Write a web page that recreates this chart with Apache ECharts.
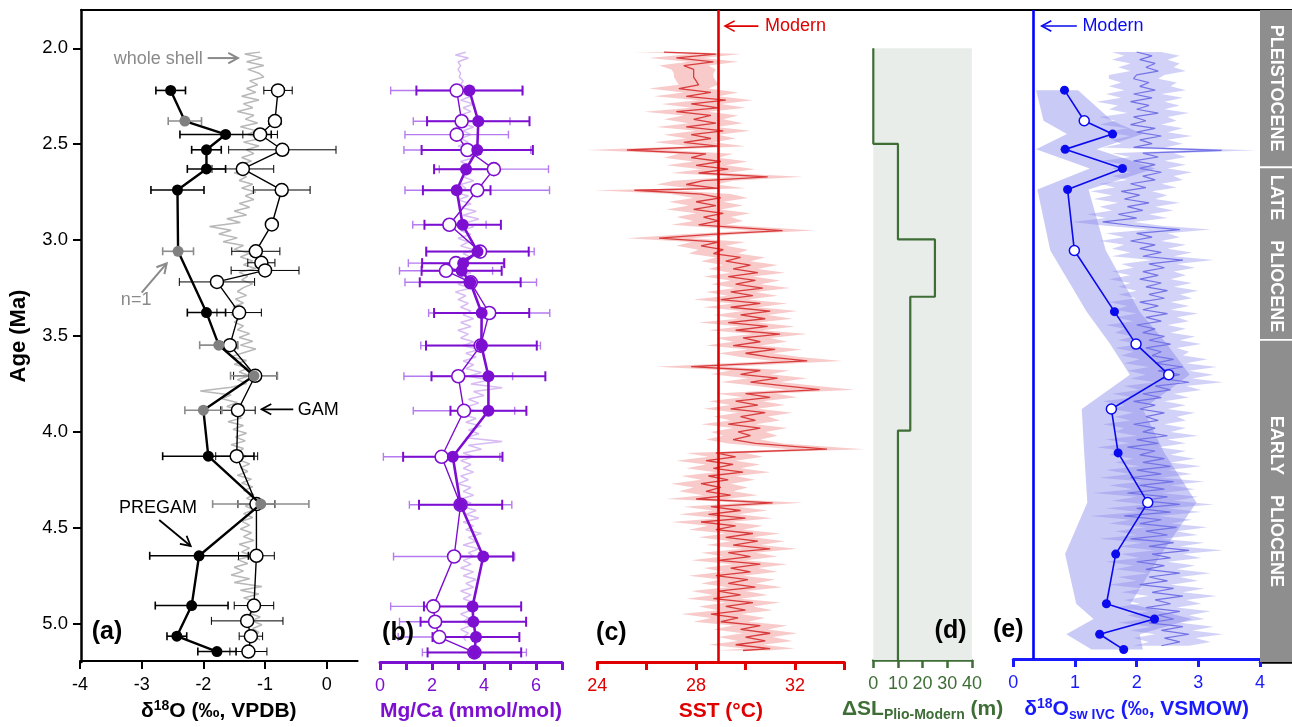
<!DOCTYPE html>
<html><head><meta charset="utf-8">
<script src="https://cdn.jsdelivr.net/npm/echarts@6/dist/echarts.min.js"></script>
<style>html,body{margin:0;padding:0;background:#fff}#c{width:1292px;height:727px}</style>
</head><body><div id="c"></div>
<script>
const FONT = "'Liberation Sans', Arial, Helvetica, sans-serif";
// ---------------- DATA ----------------
const ageTicks = [2.0, 2.5, 3.0, 3.5, 4.0, 4.5, 5.0];
const d18oTicks = [-4, -3, -2, -1, 0];
const mgTicks = [0, 1, 2, 3, 4, 5, 6, 7];
const mgLabels = [0, 2, 4, 6];
const sstTicks = [24, 26, 28, 30, 32, 34];
const sstLabels = [24, 28, 32];
const slTicks = [0, 10, 20, 30, 40];
const swTicks = [0, 1, 2, 3, 4];

// (a) d18O: [age, value, err, grey(n=1)]
const d18oFilled = [
 [2.22,-2.53,0.24,0],[2.38,-2.30,0.27,1],[2.45,-1.64,0.74,0],[2.53,-1.95,0.24,0],
 [2.63,-1.95,0.31,0],[2.74,-2.42,0.43,0],[3.06,-2.41,0.25,1],[3.38,-1.95,0.31,0],
 [3.55,-1.75,0.31,1],[3.71,-1.18,0.38,1],[3.89,-2.00,0.30,1],[4.13,-1.92,0.74,0],
 [4.38,-1.07,0.78,1],[4.65,-2.07,0.80,0],[4.91,-2.19,0.59,0],[5.07,-2.43,0.16,0],
 [5.15,-1.78,0.31,0]];
// [age, value, err]
const d18oOpen = [
 [2.22,-0.79,0.23],[2.38,-0.84,0.10],[2.45,-1.08,0.28],[2.53,-0.72,0.87],[2.63,-1.36,0.50],
 [2.74,-0.73,0.46],[2.92,-0.89,0],[3.06,-1.15,0.39],[3.12,-1.06,0.22],[3.16,-1.00,0.55],
 [3.22,-1.78,0.61],[3.38,-1.42,0.36],[3.55,-1.57,0.12],[3.71,-1.16,0.35],[3.89,-1.44,0.28],
 [4.13,-1.46,0.34],[4.38,-1.14,0.30],[4.65,-1.14,0.29],[4.91,-1.18,0.32],[4.99,-1.29,0.58],
 [5.07,-1.23,0.19],[5.15,-1.27,0.30]];
// whole shell [age, value]
const wholeShell = [
 [2.02,-1.08],[2.03,-1.33],[2.05,-1.05],[2.07,-1.30],[2.09,-1.02],[2.11,-1.28],[2.13,-1.10],[2.15,-1.02],
 [2.17,-1.25],[2.19,-1.12],[2.21,-1.30],[2.23,-1.15],[2.25,-1.38],[2.27,-1.10],[2.29,-1.35],[2.31,-1.20],
 [2.33,-1.45],[2.35,-1.18],[2.37,-1.32],[2.39,-1.12],[2.41,-1.40],[2.43,-1.15],[2.45,-1.28],[2.47,-1.05],
 [2.49,-1.35],[2.51,-1.10],[2.53,-1.30],[2.55,-1.18],[2.57,-1.38],[2.59,-1.22],[2.61,-1.45],[2.63,-1.25],
 [2.65,-1.50],[2.67,-1.30],[2.69,-1.42],[2.71,-1.20],[2.73,-1.38],[2.75,-1.15],[2.77,-1.32],[2.79,-1.18],
 [2.81,-1.42],[2.83,-1.25],[2.85,-1.50],[2.87,-1.30],[2.89,-1.62],[2.91,-1.40],[2.93,-1.90],[2.95,-1.55],
 [2.97,-1.75],[2.99,-1.45],[3.01,-1.68],[3.03,-1.35],[3.05,-1.50],[3.07,-1.25],[3.09,-1.40],[3.11,-1.20],
 [3.13,-1.35],[3.15,-1.15],[3.17,-1.42],[3.19,-1.28],[3.21,-1.38],[3.23,-1.20],[3.25,-1.35],[3.27,-1.45],
 [3.29,-1.30],[3.31,-1.48],[3.33,-1.35],[3.35,-1.52],[3.37,-1.38],[3.39,-1.55],[3.41,-1.40],[3.43,-1.50],
 [3.45,-1.35],[3.47,-1.45],[3.49,-1.25],[3.51,-1.42],[3.53,-1.20],[3.55,-1.40],[3.57,-1.15],[3.59,-1.35],
 [3.61,-1.55],[3.63,-1.30],[3.65,-1.50],[3.67,-1.28],[3.69,-1.42],[3.71,-1.25],[3.73,-1.45],[3.75,-1.30],
 [3.77,-1.55],[3.79,-2.05],[3.81,-1.55],[3.83,-1.70],[3.85,-1.45],[3.87,-1.62],[3.89,-1.40],[3.91,-1.55],
 [3.93,-1.38],[3.95,-1.60],[3.97,-1.35],[3.99,-1.52],[4.01,-1.30],[4.03,-1.48],[4.05,-1.32],[4.07,-1.55],
 [4.09,-1.35],[4.11,-1.45],[4.13,-1.30],[4.15,-1.42],[4.17,-1.25],[4.19,-1.40],[4.21,-1.28],[4.23,-1.45],
 [4.25,-1.22],[4.27,-1.38],[4.29,-1.20],[4.31,-1.35],[4.33,-1.18],[4.35,-1.30],[4.37,-1.15],[4.39,-1.32],
 [4.41,-1.18],[4.43,-1.35],[4.45,-1.20],[4.47,-1.38],[4.49,-1.25],[4.51,-1.40],[4.53,-1.22],[4.55,-1.35],
 [4.57,-1.18],[4.59,-1.42],[4.61,-1.25],[4.63,-1.38],[4.65,-1.20],[4.67,-1.45],[4.69,-1.28],[4.71,-1.50],
 [4.73,-1.35],[4.75,-1.55],[4.77,-1.25],[4.79,-1.50],[4.81,-1.05],[4.83,-1.40],[4.85,-1.10],[4.87,-1.35],
 [4.89,-1.15],[4.91,-1.30],[4.93,-1.10],[4.95,-1.25],[4.97,-1.08],[4.99,-1.22],[5.01,-1.05],[5.03,-1.20],
 [5.05,-1.10],[5.07,-1.18],[5.09,-1.08]];

// (b) Mg/Ca [age, value, err]
const mgFilled = [
 [2.22,3.44,2.04],[2.38,3.78,1.97],[2.53,3.74,2.14],[2.63,3.31,1.23],[2.74,2.95,1.30],
 [2.92,3.18,1.47],[3.06,3.75,1.97],[3.12,3.20,1.58],[3.16,3.14,1.54],[3.22,3.47,1.94],
 [3.38,3.91,1.83],[3.55,3.90,2.13],[3.71,4.17,2.19],[3.89,4.17,1.46],[4.13,2.80,1.91],
 [4.38,3.10,1.60],[4.65,3.97,1.15],[4.91,3.56,1.87],[4.99,3.59,2.03],[5.07,3.69,1.67],
 [5.15,3.63,1.80]];
const mgOpen = [
 [2.22,2.95,2.54],[2.38,3.14,1.86],[2.45,2.95,1.99],[2.53,3.36,2.44],[2.63,4.38,2.10],
 [2.74,3.74,2.78],[2.92,2.67,1.41],[3.06,3.85,2.08],[3.12,2.92,1.83],[3.16,2.54,1.79],
 [3.22,3.49,2.53],[3.38,4.20,2.33],[3.55,3.87,2.30],[3.71,3.01,2.09],[3.89,3.23,1.95],
 [4.13,2.37,2.24],[4.38,3.10,1.97],[4.65,2.85,2.33],[4.91,2.05,1.64],[4.99,2.12,1.37],
 [5.07,2.28,1.58],[5.15,3.63,2.00]];
const mgWhole = [
 [2.02,3.3],[2.035,2.9],[2.05,3.4],[2.07,3.0],[2.09,3.1],[2.11,3.0],[2.13,3.1],[2.15,3.05],[2.17,3.2],
 [2.19,3.1],[2.21,3.4],[2.23,3.0],[2.25,3.5],[2.27,3.1],[2.29,3.6],[2.31,3.2],[2.33,3.5],[2.35,3.0],
 [2.37,3.4],[2.39,3.1],[2.41,3.6],[2.43,3.2],[2.45,3.5],[2.47,3.1],[2.49,3.4],[2.51,3.0],[2.53,3.5],
 [2.55,3.2],[2.57,3.6],[2.59,3.1],[2.61,3.4],[2.63,3.0],[2.65,3.5],[2.67,3.2],[2.69,3.6],[2.71,3.1],
 [2.73,3.3],[2.75,2.9],[2.77,3.4],[2.79,3.0],[2.81,3.5],[2.83,3.1],[2.85,3.7],[2.87,3.2],[2.89,3.8],
 [2.91,3.3],[2.93,3.6],[2.95,3.1],[2.97,3.5],[2.99,3.0],[3.01,3.4],[3.03,3.1],[3.05,3.6],[3.07,3.2],
 [3.09,3.5],[3.11,3.1],[3.13,3.4],[3.15,3.0],[3.17,3.5],[3.19,3.1],[3.21,3.4],[3.23,3.0],[3.25,3.5],
 [3.27,2.9],[3.29,3.3],[3.31,3.0],[3.33,3.4],[3.35,3.1],[3.37,3.5],[3.39,3.2],[3.41,3.6],[3.43,3.1],
 [3.45,3.5],[3.47,3.0],[3.49,3.4],[3.51,3.1],[3.53,3.6],[3.55,3.2],[3.57,3.8],[3.59,3.3],[3.61,3.7],
 [3.63,3.2],[3.65,3.6],[3.67,3.3],[3.69,3.9],[3.71,3.4],[3.73,4.2],[3.75,3.5],[3.77,4.7],[3.79,3.6],
 [3.81,4.0],[3.83,3.4],[3.85,3.8],[3.87,3.3],[3.89,3.6],[3.91,3.2],[3.93,3.7],[3.95,3.3],[3.97,3.9],
 [3.99,3.4],[4.01,3.8],[4.03,3.3],[4.05,4.7],[4.07,3.4],[4.09,3.9],[4.11,3.2],[4.13,3.6],[4.15,3.1],
 [4.17,3.5],[4.19,3.2],[4.21,3.6],[4.23,3.1],[4.25,3.4],[4.27,3.0],[4.29,3.5],[4.31,3.2],[4.33,3.6],
 [4.35,3.1],[4.37,3.5],[4.39,3.2],[4.41,3.7],[4.43,3.3],[4.45,3.8],[4.47,3.2],[4.49,3.6],[4.51,3.3],
 [4.53,3.9],[4.55,3.4],[4.57,3.7],[4.59,3.2],[4.61,3.8],[4.63,3.4],[4.65,3.6],[4.67,3.2],[4.69,3.5],
 [4.71,3.1],[4.73,3.6],[4.75,3.2],[4.77,3.7],[4.79,3.3],[4.81,3.6],[4.83,3.1],[4.85,3.5],[4.87,3.2],
 [4.89,3.6],[4.91,3.3],[4.93,3.5],[4.95,3.1],[4.97,3.4],[4.99,3.2],[5.01,3.5],[5.03,3.1],[5.05,3.4],
 [5.07,3.2],[5.09,3.3]];

// (c) SST [age, value, half-width of band]
const modernSST = 28.9;
const sst = [
 [2.02,26.7,1.2],[2.03,28.8,1.0],[2.05,27.2,1.1],[2.07,28.7,1.0],[2.09,27.5,1.0],[2.11,27.9,0.9],[2.13,27.9,0.8],
 [2.15,27.9,0.8],[2.17,28.0,0.8],[2.19,28.1,0.8],[2.21,27.3,1.2],[2.23,28.6,1.1],[2.25,27.6,1.3],[2.27,29.2,1.1],
 [2.29,27.8,1.2],[2.31,28.9,1.1],[2.33,27.2,1.3],[2.35,28.6,1.1],[2.37,27.9,1.2],[2.39,28.8,1.1],[2.41,27.6,1.2],
 [2.43,29.1,1.1],[2.45,27.8,1.1],[2.47,28.6,1.0],[2.49,27.5,1.2],[2.51,28.9,1.1],[2.53,25.2,1.6],[2.55,28.4,1.1],
 [2.57,27.8,1.1],[2.59,29.0,1.1],[2.61,28.0,1.2],[2.63,29.3,1.1],[2.65,28.1,1.1],[2.67,30.9,1.4],[2.69,28.3,1.2],
 [2.71,27.6,1.2],[2.73,28.9,1.1],[2.74,25.5,1.6],[2.76,28.2,1.2],[2.78,29.0,1.1],[2.80,28.0,1.1],[2.82,28.8,1.1],
 [2.84,27.9,1.1],[2.86,29.1,1.1],[2.88,28.3,1.1],[2.90,28.9,1.0],[2.92,28.1,1.1],[2.95,31.5,1.3],[2.97,28.6,1.1],
 [2.99,26.5,1.3],[3.01,28.9,1.1],[3.03,28.2,1.0],[3.05,29.1,1.0],[3.07,28.7,1.0],[3.09,29.8,1.0],[3.11,29.2,1.0],
 [3.13,30.2,1.1],[3.15,29.5,1.0],[3.17,30.5,1.1],[3.19,29.3,1.0],[3.21,30.4,1.0],[3.23,29.6,1.0],[3.25,30.7,1.1],
 [3.27,29.4,1.0],[3.29,30.3,1.0],[3.31,29.0,1.1],[3.33,30.6,1.1],[3.35,29.4,1.1],[3.37,31.0,1.1],[3.39,29.8,1.1],
 [3.41,30.8,1.1],[3.43,29.3,1.2],[3.45,30.9,1.1],[3.47,29.6,1.1],[3.49,31.4,1.1],[3.51,29.9,1.1],[3.53,30.6,1.1],
 [3.55,29.5,1.1],[3.57,31.2,1.1],[3.59,30.0,1.1],[3.61,31.0,1.2],[3.63,32.5,1.4],[3.66,27.8,1.4],[3.68,30.6,1.2],
 [3.70,29.8,1.2],[3.72,31.3,1.2],[3.74,30.2,1.2],[3.76,31.6,1.2],[3.78,33.0,1.4],[3.80,30.0,1.2],[3.82,31.0,1.1],
 [3.84,29.6,1.1],[3.86,30.5,1.1],[3.88,29.4,1.1],[3.90,30.8,1.1],[3.92,29.8,1.1],[3.94,30.4,1.0],[3.96,29.3,1.1],
 [3.98,30.6,1.1],[4.00,29.7,1.1],[4.02,30.2,1.1],[4.04,29.5,1.1],[4.06,30.4,1.1],[4.09,33.3,1.5],[4.11,28.8,1.2],
 [4.13,29.6,1.1],[4.15,28.4,1.2],[4.17,29.5,1.1],[4.19,28.7,1.1],[4.21,29.9,1.1],[4.23,28.5,1.1],[4.25,29.3,1.1],
 [4.27,28.2,1.2],[4.29,29.0,1.1],[4.31,28.4,1.1],[4.33,29.4,1.1],[4.35,28.0,1.2],[4.37,31.1,1.2],[4.39,28.6,1.1],
 [4.41,29.8,1.1],[4.43,28.5,1.2],[4.45,30.0,1.1],[4.47,28.2,1.2],[4.49,29.6,1.1],[4.51,28.8,1.1],[4.53,30.3,1.1],
 [4.55,29.2,1.1],[4.57,30.5,1.1],[4.59,29.5,1.1],[4.61,31.0,1.1],[4.63,29.3,1.1],[4.65,30.2,1.1],[4.67,28.9,1.1],
 [4.69,30.6,1.1],[4.71,29.4,1.1],[4.73,30.2,1.1],[4.75,28.8,1.1],[4.77,30.1,1.1],[4.79,29.3,1.1],[4.81,30.4,1.1],
 [4.83,28.9,1.1],[4.85,29.8,1.1],[4.87,28.7,1.1],[4.89,30.3,1.1],[4.91,29.2,1.1],[4.93,30.0,1.1],[4.95,28.6,1.2],
 [4.97,29.7,1.1],[4.99,29.0,1.1],[5.01,30.6,1.1],[5.03,29.8,1.1],[5.05,31.0,1.1],[5.07,30.0,1.1],[5.09,30.8,1.1],
 [5.11,29.6,1.1],[5.13,31.0,1.0],[5.14,29.9,1.0]];

// (d) sea level step record
const slAges = [2.0, 2.5, 3.0, 3.3, 4.0];
const slValues = [0, 10, 25, 15, 10];
const slEndAge = 5.2;

// (e) d18Osw IVC points: [age, value, open, bandLow, bandHigh]
const modernSW = 0.32;
const swPoints = [
 [2.22,0.83,0,0.37,1.05],[2.38,1.15,1,0.49,1.60],[2.45,1.61,0,0.87,2.10],[2.53,0.84,0,0.37,1.35],
 [2.63,1.77,0,1.24,2.30],[2.74,0.88,0,0.39,1.22],[3.06,0.99,1,0.60,1.50],[3.38,1.64,0,1.19,2.05],
 [3.55,1.99,1,1.57,2.49],[3.71,2.52,1,1.89,2.86],[3.89,1.59,1,1.11,2.10],[4.12,1.70,0,1.15,2.45],
 [4.38,2.18,1,1.20,2.97],[4.65,1.66,0,0.84,2.40],[4.91,1.51,0,1.02,1.90],[4.99,2.29,0,1.30,2.90],
 [5.07,1.40,0,0.86,2.05],[5.15,1.79,0,1.27,2.10]];
// high-resolution record [age, value, half-width]
const swRecord = [
 [2.02,2.00,.40],[2.04,2.25,.45],[2.06,2.05,.45],[2.08,2.30,.40],[2.10,2.15,.45],[2.12,2.35,.45],[2.14,2.00,.45],
 [2.16,1.95,.40],[2.18,2.20,.45],[2.20,2.05,.50],[2.22,2.30,.50],[2.24,1.95,.45],[2.26,2.25,.50],[2.28,1.90,.55],
 [2.30,2.20,.50],[2.32,2.00,.45],[2.34,2.35,.50],[2.36,1.95,.55],[2.38,2.15,.50],[2.40,1.90,.50],[2.42,2.30,.45],
 [2.44,2.00,.50],[2.46,2.40,.50],[2.48,2.05,.45],[2.50,2.25,.50],[2.52,1.95,.50],[2.535,3.38,.55],[2.55,2.10,.50],
 [2.57,2.35,.45],[2.59,1.95,.50],[2.61,2.30,.50],[2.63,2.05,.45],[2.65,2.40,.50],[2.67,2.10,.50],[2.69,2.30,.45],
 [2.71,1.90,.50],[2.73,2.15,.50],[2.75,1.75,.50],[2.77,2.05,.45],[2.79,1.80,.50],[2.81,2.20,.50],[2.83,1.85,.45],
 [2.85,2.10,.50],[2.87,1.70,.50],[2.89,2.00,.50],[2.91,1.45,.50],[2.93,1.95,.45],[2.95,2.70,.50],[2.97,2.00,.50],
 [2.99,2.25,.45],[3.01,1.90,.50],[3.03,2.30,.50],[3.05,2.05,.45],[3.07,2.40,.50],[3.09,2.10,.50],[3.11,2.75,.50],
 [3.13,2.20,.45],[3.15,2.45,.50],[3.17,2.10,.50],[3.19,2.35,.45],[3.21,2.05,.50],[3.23,2.40,.50],[3.25,2.15,.45],
 [3.27,2.50,.50],[3.29,2.20,.50],[3.31,2.45,.45],[3.33,2.05,.50],[3.35,2.35,.50],[3.37,2.10,.45],[3.39,2.50,.50],
 [3.41,2.15,.50],[3.43,2.40,.45],[3.45,2.00,.50],[3.47,2.30,.50],[3.49,2.10,.45],[3.51,2.45,.50],[3.53,2.20,.50],
 [3.55,2.55,.50],[3.57,2.15,.50],[3.59,2.40,.45],[3.61,2.25,.50],[3.63,2.60,.55],[3.65,2.30,.50],[3.67,2.75,.55],
 [3.69,2.35,.50],[3.71,2.70,.55],[3.73,2.40,.50],[3.75,2.85,.55],[3.77,2.30,.50],[3.79,2.55,.50],[3.81,2.10,.50],
 [3.83,2.40,.45],[3.85,1.95,.50],[3.87,2.30,.50],[3.89,2.05,.45],[3.91,2.45,.50],[3.93,2.15,.50],[3.95,2.35,.45],
 [3.97,1.95,.50],[3.99,2.30,.50],[4.01,2.10,.45],[4.03,2.50,.50],[4.05,2.00,.50],[4.07,2.35,.45],[4.09,1.85,.50],
 [4.11,2.30,.50],[4.13,2.05,.50],[4.15,2.45,.50],[4.17,2.10,.45],[4.19,2.55,.50],[4.21,2.00,.50],[4.23,2.40,.50],
 [4.25,1.90,.50],[4.27,2.60,.50],[4.29,2.05,.50],[4.31,2.45,.50],[4.33,1.85,.55],[4.35,2.50,.50],[4.37,2.10,.50],
 [4.39,2.70,.55],[4.41,2.00,.50],[4.43,2.55,.50],[4.45,1.80,.55],[4.47,2.40,.50],[4.49,2.05,.50],[4.51,2.65,.50],
 [4.53,2.15,.50],[4.55,2.50,.50],[4.57,1.90,.50],[4.59,2.60,.50],[4.61,2.20,.50],[4.63,2.85,.55],[4.65,2.25,.50],
 [4.67,2.55,.50],[4.69,2.00,.50],[4.71,2.45,.50],[4.73,2.15,.50],[4.75,2.70,.50],[4.77,2.20,.50],[4.79,2.50,.50],
 [4.81,2.05,.50],[4.83,2.60,.50],[4.85,2.25,.50],[4.87,2.75,.55],[4.89,2.30,.50],[4.91,2.55,.50],[4.93,2.15,.50],
 [4.95,2.70,.50],[4.97,2.35,.50],[4.99,2.60,.50],[5.01,2.20,.50],[5.03,2.75,.50],[5.05,2.40,.50],[5.07,2.85,.55],
 [5.09,2.45,.50],[5.11,2.70,.50],[5.13,2.40,.45]];

// epochs
const epochLabels = ['PLEISTOCENE', 'LATE    PLIOCENE', 'EARLY    PLIOCENE'];
const epochStart = [1.8, 2.625, 3.525];
const epochEnd = [2.615, 3.515, 5.2];

// ---------------- STYLE ----------------
const BLACK = '#000', GREY = '#808080', SHELL = '#b8b8b8';
const PURPLE = '#7d0fd0', PURPLE_L = '#b57af0', PURPLE_W = 'rgba(175,120,230,0.5)';
const RED = '#e00000', SST_LINE = '#d83c3c', SST_BAND = 'rgba(242,150,150,0.5)';
const GREEN = '#3e6d36', GREEN_BG = '#e9ede9';
const BLUE = '#0a0aee', BLUE_AX = '#1a1aff', SW_BAND = 'rgba(150,150,238,0.5)', SWR_BAND = 'rgba(125,125,235,0.35)', SWR_LINE = '#7373e6';
const AGE_MIN = 1.8, AGE_MAX = 5.2;

const annotations = {
 1: [
  {x:-2.01, age:2.056, text:'whole shell', align:'right', color:'#8a8a8a'},
  {x:-1.93, age:2.051, to:[-1.44,2.051], color:'#8a8a8a', w:2},
  {x:-3.09, age:3.314, text:'n=1', align:'center', color:'#8a8a8a'},
  {x:-3.00, age:3.276, to:[-2.595,3.123], color:'#8a8a8a', w:2},
  {x:-0.47, age:3.889, text:'GAM', align:'left', color:BLACK},
  {x:-0.543, age:3.885, to:[-1.056,3.885], color:BLACK, w:1.8},
  {x:-2.736, age:4.40, text:'PREGAM', align:'center', color:BLACK},
  {x:-2.716, age:4.463, to:[-2.206,4.599], color:BLACK, w:1.8},
  {x:-3.81, age:5.048, text:'(a)', align:'left', color:BLACK, bold:true}],
 2: [{x:0.08, age:5.048, text:'(b)', align:'left', color:BLACK, bold:true}],
 3: [
  {x:30.52, age:1.884, to:[29.17,1.884], color:RED, w:1.6},
  {x:30.79, age:1.886, text:'Modern', align:'left', color:RED},
  {x:23.95, age:5.048, text:'(c)', align:'left', color:BLACK, bold:true}],
 4: [{x:37.8, age:5.048, text:'(d)', align:'right', color:BLACK, bold:true}],
 5: [
  {x:1.03, age:1.884, to:[0.46,1.884], color:BLUE, w:1.6},
  {x:1.12, age:1.886, text:'Modern', align:'left', color:BLUE},
  {x:-0.33, age:5.048, text:'(e)', align:'left', color:BLACK, bold:true}]
};

// ---------------- HELPERS ----------------
function annotSeries(gi) {
  const list = annotations[gi];
  return {
    type:'custom', xAxisIndex:gi, yAxisIndex:gi, z:20, silent:true,
    data: list.map(a => [a.x, a.age]), encode:{x:0, y:1},
    renderItem: (params, api) => {
      const a = list[params.dataIndex];
      const p = api.coord([a.x, a.age]);
      if (a.text) {
        return {type:'text', x:p[0], y:p[1], style:{text:a.text, fill:a.color,
          fontSize: a.bold ? 25 : 18, fontWeight: a.bold ? 'bold' : 'normal', fontFamily:FONT,
          align:a.align, verticalAlign:'middle'}};
      }
      const q = api.coord(a.to);
      const ang = Math.atan2(q[1]-p[1], q[0]-p[0]);
      const L = 11, s = 0.5;
      const h1 = [q[0] - L*Math.cos(ang - s), q[1] - L*Math.sin(ang - s)];
      const h2 = [q[0] - L*Math.cos(ang + s), q[1] - L*Math.sin(ang + s)];
      const st = {stroke:a.color, lineWidth:a.w, fill:null};
      return {type:'group', children:[
        {type:'line', shape:{x1:p[0], y1:p[1], x2:q[0], y2:q[1]}, style:st},
        {type:'polyline', shape:{points:[h1, q, h2]}, style:st}]};
    }
  };
}
function errSeries(gi, rows, color, width, cap, z, filter) {
  const rs = filter ? rows.filter(filter) : rows;
  return {
    type:'custom', xAxisIndex:gi, yAxisIndex:gi, z:z, silent:true,
    data: rs.map(r => [r[1], r[0], r[2]]), encode:{x:0, y:1},
    renderItem: (params, api) => {
      const v = api.value(0), a = api.value(1), e = api.value(2);
      if (!e) return {type:'group', children:[]};
      const p1 = api.coord([v-e, a]), p2 = api.coord([v+e, a]);
      const st = {stroke:color, lineWidth:width};
      return {type:'group', children:[
        {type:'line', shape:{x1:p1[0], y1:p1[1], x2:p2[0], y2:p2[1]}, style:st},
        {type:'line', shape:{x1:p1[0], y1:p1[1]-cap, x2:p1[0], y2:p1[1]+cap}, style:st},
        {type:'line', shape:{x1:p2[0], y1:p2[1]-cap, x2:p2[0], y2:p2[1]+cap}, style:st}]};
    }
  };
}
function bandSeries(gi, ages, lo, hi, color, z) {
  return {
    type:'custom', xAxisIndex:gi, yAxisIndex:gi, z:z, silent:true,
    data:[[lo[0], ages[0]]], encode:{x:0, y:1},
    renderItem: (params, api) => {
      const pts = [];
      for (let i = 0; i < ages.length; i++) pts.push(api.coord([lo[i], ages[i]]));
      for (let i = ages.length-1; i >= 0; i--) pts.push(api.coord([hi[i], ages[i]]));
      return {type:'polygon', shape:{points:pts}, style:{fill:color}};
    }
  };
}
function plainLine(gi, pairs, color, width, z) {
  return {type:'line', xAxisIndex:gi, yAxisIndex:gi, z:z, silent:true, symbol:'none',
    data: pairs.map(p => [p[1], p[0]]), lineStyle:{color:color, width:width}};
}
function pointSeries(gi, rows, o) {
  return {type:'line', xAxisIndex:gi, yAxisIndex:gi, z:o.z, silent:true,
    symbol:'circle', showSymbol:true, showAllSymbol:true,
    symbolSize: (val, params) => o.size(rows[params.dataIndex]),
    data: rows.map(r => ({value:[r[1], r[0]], itemStyle:{color:o.fill(r), borderColor:o.border(r), borderWidth:o.bw(r)}})),
    lineStyle:{color:o.line, width:o.lw}};
}
function xAxisCfg(gi, min, max, color, lw, ticks, labels, name, rich) {
  return {gridIndex:gi, type:'value', min:min, max:max, position:'bottom',
    axisLine:{show:true, onZero:false, lineStyle:{color:color, width:lw}},
    axisTick:{show:true, inside:false, length:8, customValues:ticks, lineStyle:{color:color, width:lw}},
    axisLabel:{show:true, customValues:labels, color:color, fontSize:18, fontFamily:FONT, margin:15},
    splitLine:{show:false},
    name:name, nameLocation:'middle', nameGap:37,
    nameTextStyle:{rich:rich}};
}
function richFor(color) {
  return {
    t:{fontSize:21, fontWeight:'bold', fontFamily:FONT, color:color, lineHeight:25},
    s:{fontSize:14, fontWeight:'bold', fontFamily:FONT, color:color, lineHeight:14, verticalAlign:'top'},
    b:{fontSize:14, fontWeight:'bold', fontFamily:FONT, color:color, lineHeight:14, verticalAlign:'bottom'}
  };
}
function hiddenY(gi) {
  return {gridIndex:gi, type:'value', min:AGE_MIN, max:AGE_MAX, inverse:true, show:false,
    axisLine:{onZero:false}, splitLine:{show:false}};
}

// sea-level step polyline from the arrays
const slPath = [];
for (let i = 0; i < slAges.length; i++) {
  slPath.push([slValues[i], slAges[i]]);
  slPath.push([slValues[i], i + 1 < slAges.length ? slAges[i+1] : slEndAge]);
}

const chart = echarts.init(document.getElementById('c'), null, {renderer:'canvas'});
const option = {
  animation:false,
  backgroundColor:'#fff',
  grid:[
    {left:80, top:10, width:1212, height:652},
    {left:80, top:10, width:277.6, height:652},
    {left:380, top:10, width:182, height:652},
    {left:597.3, top:10, width:247, height:652},
    {left:873.3, top:10, width:98.6, height:652},
    {left:1013.3, top:10, width:246.7, height:652},
    {left:1260, top:10, width:32, height:652}
  ],
  xAxis:[
    {gridIndex:0, type:'value', min:0, max:1, position:'top',
     axisLine:{show:true, onZero:false, lineStyle:{color:BLACK, width:2}},
     axisTick:{show:false}, axisLabel:{show:false}, splitLine:{show:false}},
    xAxisCfg(1, -4, 0.5, BLACK, 2, d18oTicks, d18oTicks, '{t|δ}{s|18}{t|O (‰, VPDB)}', richFor(BLACK)),
    xAxisCfg(2, 0, 7, PURPLE, 3, mgTicks, mgLabels, '{t|Mg/Ca (mmol/mol)}', richFor(PURPLE)),
    xAxisCfg(3, 24, 34, RED, 3, sstTicks, sstLabels, '{t|SST (°C)}', richFor(RED)),
    xAxisCfg(4, 0, 40, GREEN, 2.5, slTicks, slTicks, '{t|ΔSL}{b|Plio-Modern}{t| (m)}', richFor(GREEN)),
    xAxisCfg(5, 0, 4, BLUE_AX, 3, swTicks, swTicks, '{t|δ}{s|18}{t|O}{b|sw IVC}{t| (‰, VSMOW)}', richFor(BLUE_AX)),
    {gridIndex:6, type:'value', min:0, max:1, position:'bottom',
     axisLine:{show:true, onZero:false, lineStyle:{color:BLACK, width:2.5}},
     axisTick:{show:false}, axisLabel:{show:false}, splitLine:{show:false}}
  ],
  yAxis:[
    {gridIndex:0, type:'value', min:AGE_MIN, max:AGE_MAX, inverse:true, position:'left',
     axisLine:{show:true, onZero:false, lineStyle:{color:BLACK, width:2.5}},
     axisTick:{show:true, inside:false, length:8, customValues:ageTicks, lineStyle:{color:BLACK, width:2}},
     axisLabel:{show:true, customValues:ageTicks, formatter:v => Number(v).toFixed(1), color:BLACK, fontSize:18.5, fontFamily:FONT, margin:13},
     splitLine:{show:false},
     name:'Age (Ma)', nameLocation:'middle', nameRotate:90, nameGap:51,
     nameTextStyle:{fontSize:22, fontWeight:'bold', color:BLACK, fontFamily:FONT}},
    hiddenY(1), hiddenY(2), hiddenY(3), hiddenY(4), hiddenY(5), hiddenY(6)
  ],
  series:[
    // (a)
    plainLine(1, wholeShell, SHELL, 1.5, 2),
    errSeries(1, d18oOpen, BLACK, 1, 4, 3),
    errSeries(1, d18oFilled, BLACK, 1.6, 4, 4, r => !r[3]),
    errSeries(1, d18oFilled, '#8c8c8c', 1.6, 4, 4, r => r[3]),
    pointSeries(1, d18oOpen, {z:5, size:()=>13, fill:()=>'#fff', border:()=>BLACK, bw:()=>1.5, line:BLACK, lw:1.4}),
    pointSeries(1, d18oFilled, {z:6, size:()=>11, fill:r=>r[3]?GREY:BLACK, border:r=>r[3]?GREY:BLACK, bw:()=>0, line:BLACK, lw:2.4}),
    annotSeries(1),
    // (b)
    plainLine(2, mgWhole, PURPLE_W, 1.5, 2),
    errSeries(2, mgOpen, PURPLE_L, 1.4, 4, 3),
    errSeries(2, mgFilled, PURPLE, 2, 5, 4),
    pointSeries(2, mgOpen, {z:5, size:()=>13, fill:()=>'#fff', border:()=>PURPLE, bw:()=>1.6, line:PURPLE, lw:1.4}),
    pointSeries(2, mgFilled, {z:6, size:()=>12, fill:()=>PURPLE, border:()=>PURPLE, bw:()=>0, line:PURPLE, lw:2.6}),
    annotSeries(2),
    // (c)
    bandSeries(3, sst.map(r=>r[0]), sst.map(r=>r[1]-r[2]), sst.map(r=>r[1]+r[2]), SST_BAND, 2),
    Object.assign(plainLine(3, sst, SST_LINE, 1.3, 3), {
      markLine:{silent:true, symbol:['none','none'], label:{show:false}, z:10,
        lineStyle:{color:RED, width:2.6, type:'solid'}, data:[{xAxis:modernSST}]}}),
    annotSeries(3),
    // (d)
    Object.assign(plainLine(4, slPath.map(p => [p[1], p[0]]), GREEN, 2.2, 3), {
      markArea:{silent:true, itemStyle:{color:GREEN_BG}, data:[[{xAxis:0, yAxis:slAges[0]}, {xAxis:40, yAxis:slEndAge}]]}}),
    annotSeries(4),
    // (e)
    bandSeries(5, swPoints.map(r=>r[0]), swPoints.map(r=>r[3]), swPoints.map(r=>r[4]), SW_BAND, 2),
    bandSeries(5, swRecord.map(r=>r[0]), swRecord.map(r=>r[1]-r[2]), swRecord.map(r=>r[1]+r[2]), SWR_BAND, 3),
    Object.assign(plainLine(5, swRecord, SWR_LINE, 1.2, 4), {
      markLine:{silent:true, symbol:['none','none'], label:{show:false}, z:10,
        lineStyle:{color:'#0000ff', width:2.6, type:'solid'}, data:[{xAxis:modernSW}]}}),
    pointSeries(5, swPoints, {z:6, size:r=>r[2]?10:9, fill:r=>r[2]?'#fff':BLUE, border:()=>BLUE, bw:r=>r[2]?1.5:0, line:BLUE, lw:1.6}),
    annotSeries(5),
    // epochs
    {type:'custom', xAxisIndex:6, yAxisIndex:6, z:5, silent:true,
     data: epochLabels.map((n, i) => [0.5, (epochStart[i] + epochEnd[i]) / 2]), encode:{x:0, y:1},
     renderItem:(params, api) => {
       const i = params.dataIndex;
       const p1 = api.coord([0, epochStart[i]]), p2 = api.coord([1, epochEnd[i]]);
       return {type:'group', children:[
         {type:'rect', shape:{x:p1[0], y:p1[1], width:p2[0]-p1[0], height:p2[1]-p1[1]}, style:{fill:'#8e8e8e'}},
         {type:'text', x:(p1[0]+p2[0])/2, y:(p1[1]+p2[1])/2, rotation:-Math.PI/2,
          style:{text:epochLabels[i], fill:'#fff', fontSize:18, fontWeight:'bold', fontFamily:FONT, align:'center', verticalAlign:'middle'}}]};
     }}
  ]
};
chart.setOption(option);
</script></body></html>
